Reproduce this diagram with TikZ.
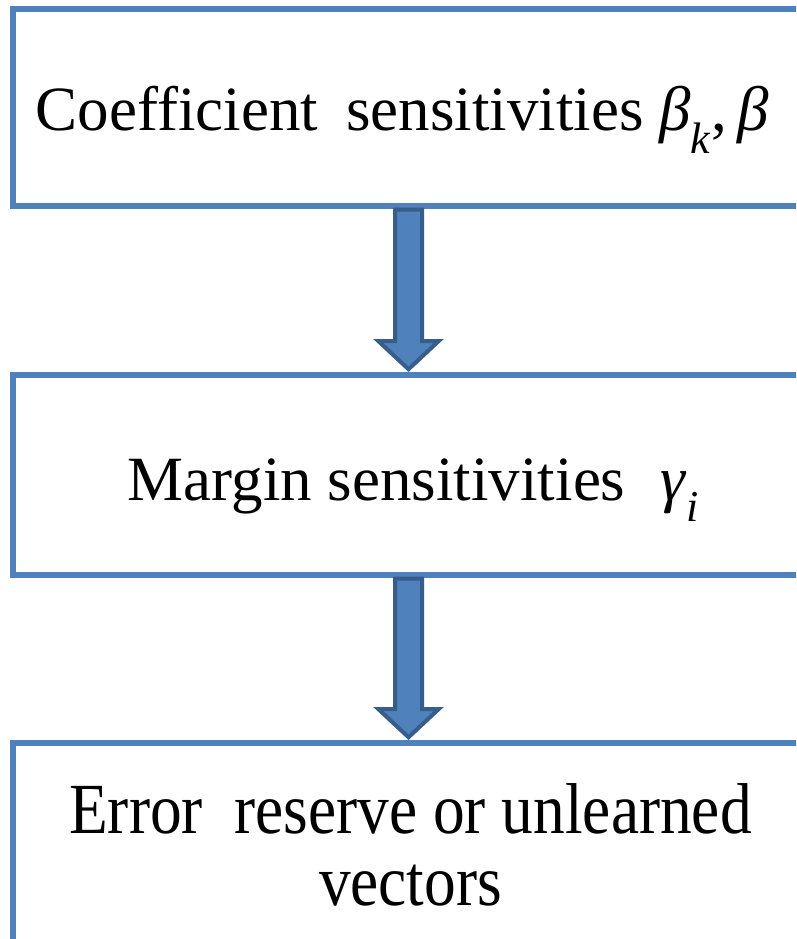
\documentclass[tikz,border=0pt]{standalone}
\usepackage{fontspec}
\setmainfont{Liberation Serif}
\newfontfamily\narrowserif[FakeStretch=0.88]{Liberation Serif}
\usetikzlibrary{calc}
\definecolor{boxblue}{HTML}{4F81BD}
\definecolor{arrowedge}{HTML}{385D8A}
\tikzset{
  stage/.style={draw=boxblue, line width=5.5pt, fill=white, minimum width=791pt,
    minimum height=200pt, inner sep=0pt},
  stagetext/.style={anchor=base, inner sep=0pt, align=center,
    font=\fontsize{63}{73}\selectfont},
  blockarrow/.style={draw=arrowedge, fill=boxblue, line width=4pt, line join=miter}
}

\begin{document}
\begin{tikzpicture}[x=1pt, y=1pt]
  \useasboundingbox (0,0) rectangle (796,939);
  \clip (0,0) rectangle (796,939);
  % the three stages
  \node[stage, minimum height=197pt] (coef) at (408.5,831.5) {};
  \node[stage] (marg) at (408.5,464) {};
  \node[stage] (err) at (408.5,96) {};
  \node[stagetext] (coeftext) at ($(coef.center)+(-6,-23.5)$)
    {Coefficient\hspace{0.45em}sensitivities \textit{β}\textsubscript{\textit{k}},\,\textit{β}};
  \node[stagetext] (margtext) at ($(marg.center)+(5,-26)$)
    {Margin sensitivities\hspace{0.3em} \textit{γ}\textsubscript{\textit{i}}};
  \node[stagetext, font=\narrowserif\fontsize{72}{72}\selectfont] (errtext)
    at ($(err.center)+(2,-63)$) {Error\ \ reserve or unlearned\\vectors};
  % block arrows between them
  \foreach \a/\b in {coef/marg, marg/err}
    \draw[blockarrow] ($(\a.south)+(-13.5,-1)$) -- ($(\b.north)+(-13.5,31)$)
      -- ($(\b.north)+(-30,31)$) -- ($(\b.north)+(0,3)$)
      -- ($(\b.north)+(30,31)$) -- ($(\b.north)+(13.5,31)$)
      -- ($(\a.south)+(13.5,-1)$) -- cycle;
\end{tikzpicture}
\end{document}
